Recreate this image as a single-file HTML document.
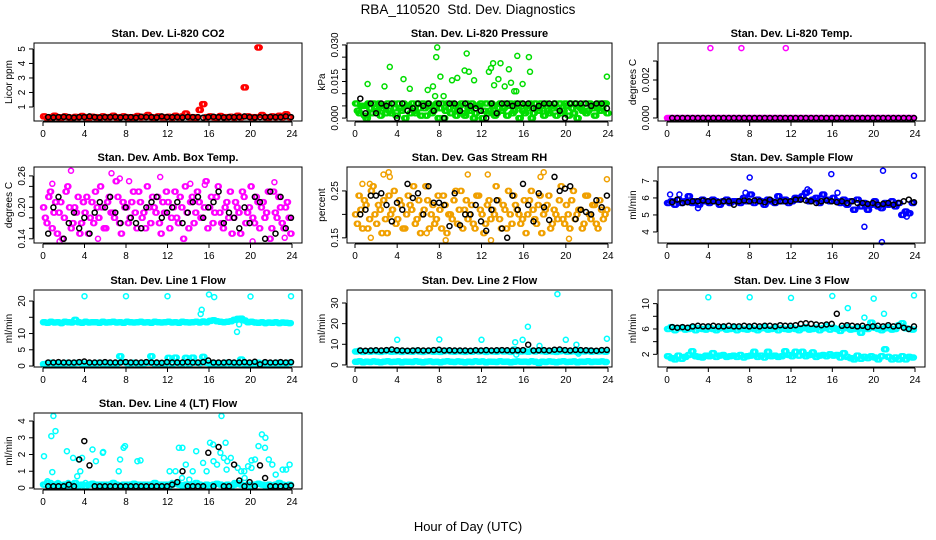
<!DOCTYPE html>
<html><head><meta charset="utf-8"><style>
body{margin:0;background:#fff;}
svg{display:block;font-family:"Liberation Sans",Arial,sans-serif;}
</style></head><body>
<svg id="chart" width="936" height="540" viewBox="0 0 936 540">
<text x="468" y="14" text-anchor="middle" font-size="13.5">RBA_110520&#160; Std. Dev. Diagnostics</text>
<text x="468" y="531" text-anchor="middle" font-size="13">Hour of Day (UTC)</text>
<g id="panels"></g>
</svg>
<script>
// ---- data ----
const co2Red=[0.35,0.25,0.3,0.4,0.3,0.28,0.35,0.3,0.25,0.32,0.3,0.38,0.3,0.27,0.33,0.3,0.25,0.35,0.3,0.3,0.4,0.28,0.3,0.35,0.3,0.25,0.3,0.38,0.3,0.32,0.45,0.3,0.28,0.35,0.3,0.3,0.33,0.27,0.4,0.3,0.35,0.55,0.3,0.3,0.28,0.8,1.2,0.3,0.35,0.3,0.27,0.38,0.3,0.3,0.33,0.28,0.4,0.3,2.35,0.35,0.3,0.3,5.1,0.45,0.3,0.28,0.35,0.3,0.4,0.3,0.5,0.3];
const co2Black=[0.3,0.28,0.3,0.32,0.3,0.27,0.3,0.3,0.35,0.3,0.28,0.3,0.3,0.32,0.28,0.3,0.3,0.27,0.33,0.3,0.3,0.28,0.35,0.3,0.3,0.3,0.28,0.32,0.3,0.3,0.27,0.3,0.33,0.3,0.28,0.3,0.3,0.3,0.35,0.3,0.28,0.3,0.3,0.32,0.3,0.3,0.35,0.3];
const presA=[0.006,0.002,0.005,0.000,0.004,0.006,0.003,0.001,0.005,0.006,0.002,0.004,0.006,0.003,0.000,0.005,0.006,0.002,0.004,0.006,0.001,0.005,0.003,0.006,0.004,0.000,0.006,0.002,0.005,0.003,0.006,0.001,0.004,0.006,0.002,0.005,0.000,0.006,0.003,0.005,0.002,0.006,0.004,0.001,0.006,0.003,0.005,0.006,0.002,0.004,0.000,0.006,0.003,0.005,0.006,0.002,0.004,0.001,0.006,0.003,0.005,0.006,0.002,0.000,0.004,0.006,0.003,0.005,0.001,0.006,0.004,0.006];
const presB=[0.003,0.005,0.001,0.006,0.002,0.004,0.006,0.004,0.002,0.003,0.006,0.001,0.004,0.006,0.005,0.002,0.003,0.006,0.001,0.004,0.006,0.002,0.005,0.000,0.006,0.003,0.004,0.006,0.001,0.005,0.002,0.006,0.003,0.000,0.005,0.006,0.003,0.002,0.006,0.001,0.004,0.003,0.006,0.005,0.002,0.006,0.000,0.003,0.005,0.006,0.002,0.004,0.006,0.001,0.003,0.005,0.006,0.004,0.002,0.006,0.001,0.004,0.006,0.005,0.003,0.002,0.006,0.004,0.005,0.003,0.006,0.002];
const presOutT=[1.2,2.8,3.3,4.6,5.2,6.9,7.4,7.6,7.7,7.8,8.1,8.4,9.2,9.7,10.4,10.6,10.8,11.3,12.7,12.9,13.1,13.2,13.6,13.8,14.2,14.6,14.8,15.1,15.3,15.4,15.9,16.5,16.6,23.9];
const presOutV=[0.014,0.013,0.021,0.016,0.012,0.0115,0.013,0.009,0.025,0.029,0.017,0.009,0.0155,0.0165,0.0195,0.0265,0.019,0.0155,0.019,0.0205,0.0225,0.0135,0.016,0.0225,0.013,0.020,0.0145,0.011,0.011,0.0255,0.014,0.025,0.019,0.017];
const presBlack=[0.008,0.002,0.006,0.002,0.006,0.005,0.006,0.000,0.006,0.003,0.004,0.006,0.005,0.006,0.003,0.006,0.000,0.006,0.006,0.003,0.006,0.005,0.004,0.003,0.000,0.006,0.002,0.006,0.006,0.005,0.006,0.006,0.006,0.004,0.005,0.006,0.006,0.006,0.003,0.000,0.006,0.006,0.006,0.006,0.005,0.006,0.006,0.004];
const tempMag=[0,0,0,0,0,0,0,0,0,0,0,0,0,0,0,0,0,0,0,0,0,0,0,0,0,0,0,0,0,0,0,0,0,0,0,0,0,0,0,0,0,0,0,0,0,0,0,0,0,0,0,0,0,0,0,0,0,0,0,0,0,0,0,0,0,0,0,0,0,0,0,0];
const tempOutT=[4.2,7.2,11.5];
const tempOutV=[0.00368,0.00368,0.00368];
const tempBlack=[0,0,0,0,0,0,0,0,0,0,0,0,0,0,0,0,0,0,0,0,0,0,0,0,0,0,0,0,0,0,0,0,0,0,0,0,0,0,0,0,0,0,0,0,0,0,0,0];
const ambA=[0.20,0.17,0.23,0.19,0.15,0.21,0.18,0.24,0.16,0.20,0.22,0.17,0.19,0.15,0.21,0.23,0.18,0.20,0.16,0.22,0.19,0.25,0.17,0.21,0.20,0.18,0.23,0.16,0.21,0.19,0.24,0.17,0.20,0.22,0.15,0.19,0.21,0.18,0.23,0.17,0.20,0.24,0.16,0.22,0.19,0.21,0.18,0.25,0.20,0.17,0.22,0.19,0.16,0.21,0.23,0.18,0.20,0.15,0.22,0.19,0.24,0.17,0.21,0.20,0.18,0.23,0.16,0.19,0.22,0.17,0.20,0.18];
const ambB=[0.18,0.22,0.16,0.21,0.19,0.14,0.23,0.20,0.17,0.19,0.15,0.21,0.22,0.18,0.17,0.20,0.24,0.16,0.21,0.19,0.18,0.22,0.15,0.20,0.17,0.21,0.19,0.23,0.18,0.16,0.20,0.22,0.19,0.17,0.21,0.23,0.16,0.20,0.18,0.22,0.14,0.19,0.21,0.17,0.23,0.18,0.20,0.16,0.22,0.19,0.24,0.17,0.20,0.18,0.15,0.21,0.19,0.23,0.17,0.20,0.18,0.22,0.16,0.21,0.19,0.14,0.23,0.18,0.20,0.16,0.21,0.15];
const ambOutT=[0.9,2.7,6.6,7.4,8.3,11.3,14.2,15.6,22.3,1.6,5.3,20.2,23.3];
const ambOutV=[0.245,0.27,0.265,0.255,0.25,0.258,0.245,0.243,0.248,0.135,0.14,0.135,0.142];
const ambBlack=[0.15,0.20,0.22,0.14,0.17,0.19,0.16,0.18,0.15,0.19,0.21,0.20,0.22,0.19,0.17,0.20,0.18,0.17,0.16,0.20,0.21,0.22,0.18,0.19,0.20,0.21,0.17,0.19,0.21,0.22,0.18,0.20,0.21,0.23,0.17,0.19,0.18,0.16,0.20,0.17,0.22,0.21,0.14,0.23,0.15,0.22,0.16,0.18];
const rhA=[0.20,0.24,0.17,0.22,0.19,0.26,0.18,0.21,0.23,0.16,0.20,0.25,0.19,0.22,0.17,0.24,0.21,0.18,0.23,0.20,0.26,0.17,0.22,0.19,0.21,0.24,0.16,0.20,0.23,0.18,0.25,0.21,0.19,0.22,0.17,0.24,0.20,0.18,0.23,0.21,0.26,0.19,0.22,0.17,0.20,0.24,0.21,0.18,0.23,0.20,0.25,0.19,0.22,0.16,0.21,0.24,0.18,0.20,0.23,0.19,0.22,0.17,0.25,0.20,0.21,0.18,0.24,0.19,0.22,0.17,0.21,0.20];
const rhB=[0.18,0.21,0.23,0.17,0.25,0.20,0.22,0.16,0.19,0.24,0.21,0.18,0.23,0.17,0.20,0.22,0.26,0.19,0.16,0.21,0.23,0.20,0.18,0.24,0.17,0.22,0.20,0.19,0.25,0.21,0.17,0.23,0.20,0.18,0.24,0.21,0.16,0.22,0.19,0.20,0.23,0.17,0.21,0.25,0.18,0.22,0.20,0.19,0.16,0.23,0.21,0.18,0.24,0.20,0.22,0.17,0.21,0.19,0.26,0.18,0.20,0.23,0.19,0.21,0.17,0.24,0.20,0.22,0.18,0.23,0.19,0.21];
const rhOutT=[0.7,1.4,2.7,3.2,6.8,8.6,10.7,12.6,12.9,17.9,20.3,23.9,3.3,17.6,1.5];
const rhOutV=[0.265,0.265,0.285,0.29,0.16,0.145,0.285,0.285,0.145,0.29,0.148,0.275,0.28,0.28,0.15];
const rhBlack=[0.20,0.21,0.24,0.24,0.245,0.22,0.185,0.225,0.21,0.265,0.235,0.245,0.20,0.26,0.225,0.225,0.22,0.175,0.245,0.177,0.20,0.20,0.22,0.185,0.165,0.21,0.23,0.17,0.15,0.24,0.21,0.265,0.22,0.185,0.245,0.215,0.188,0.28,0.25,0.255,0.26,0.19,0.21,0.205,0.20,0.23,0.215,0.24];
const sfBlue=[5.7,5.8,5.6,5.9,5.7,5.8,6.1,5.7,5.8,5.6,5.9,5.8,5.7,5.9,5.8,5.6,5.8,5.9,5.7,5.8,5.8,5.7,6.0,5.8,6.2,5.7,5.9,5.8,5.6,5.9,5.8,5.7,6.1,5.8,5.9,5.7,5.8,6.0,5.9,6.1,6.3,5.8,5.9,6.0,5.7,6.2,5.9,5.8,6.0,5.8,5.7,5.9,5.6,5.8,5.3,5.9,5.5,5.7,5.3,5.6,5.8,5.5,5.4,5.7,5.6,5.8,5.5,5.7,5.0,5.2,5.1,5.7];
const sfOutT=[0.3,1.2,3.0,7.6,8.0,13.6,13.8,15.9,16.5,19.1,20.8,20.9,23.9,23.2];
const sfOutV=[6.2,6.2,5.4,6.3,7.2,6.5,6.4,7.4,6.3,4.3,3.4,7.6,7.3,4.9];
const sfBlack=[5.75,5.9,5.7,5.75,5.8,5.8,5.85,5.8,5.8,5.75,5.8,5.8,5.6,5.8,5.85,5.8,5.85,5.8,5.75,5.9,5.75,5.8,5.8,5.8,5.9,5.9,5.85,5.8,5.7,5.8,5.85,5.8,5.75,5.8,5.7,5.8,5.7,5.7,5.65,5.7,5.6,5.65,5.7,5.6,5.7,5.8,5.9,5.75];
const l1Up=[13.5,13.3,13.6,13.4,13.5,13.2,13.6,13.5,13.4,14.2,13.5,13.3,13.6,13.4,13.5,13.5,13.3,13.6,13.4,13.5,13.6,13.4,13.5,13.3,13.6,13.5,13.4,13.5,13.6,13.4,13.5,13.3,13.6,13.5,13.4,13.5,13.6,13.4,13.5,13.3,13.6,13.5,13.4,13.5,13.6,13.4,13.7,13.5,13.9,14.1,13.8,13.6,13.5,13.6,13.8,14.2,14.5,14.6,14.0,13.5,13.6,13.4,13.3,13.5,13.2,13.4,13.3,13.5,13.2,13.4,13.3,13.2];
const l1Lo=[0.6,0.8,1.0,0.7,0.9,0.6,0.8,1.0,0.7,0.9,1.0,0.8,0.7,0.9,0.6,0.8,1.0,0.7,0.9,0.8,0.6,0.8,3.0,1.2,0.9,0.7,1.0,0.8,0.6,0.9,1.0,3.0,0.8,0.9,0.6,0.8,2.5,0.7,2.6,0.9,0.8,2.5,0.7,2.6,1.0,0.9,2.8,1.0,0.8,0.7,0.9,0.6,0.8,1.0,0.7,0.9,0.8,2.0,0.7,0.9,0.6,0.8,1.0,0.7,0.9,0.8,0.6,1.0,0.7,0.9,0.8,1.0];
const l1OutT=[4.0,8.0,12.0,15.2,15.3,16.0,16.5,18.7,18.9,20.0,23.9];
const l1OutV=[21.5,21.5,21.5,16.0,17.3,22.0,21.2,10.5,12.8,21.4,21.5];
const l1Black=[1.1,1.1,1.2,1.1,1.1,1.1,1.2,1.4,1.1,1.1,1.1,1.2,1.1,1.1,1.1,1.2,1.1,1.1,1.1,1.2,1.1,1.1,1.0,1.2,1.1,1.1,1.1,1.2,1.1,1.1,1.2,1.7,1.1,1.1,1.1,1.2,1.1,1.1,1.2,1.1,1.3,0.5,1.2,1.1,1.1,1.2,1.1,1.2];
const l2Up=[6.5,6.8,6.3,6.6,6.4,6.7,6.5,6.3,6.6,6.8,6.4,6.5,6.7,6.3,6.6,6.5,6.4,6.8,6.5,6.3,6.6,6.7,6.4,6.5,6.3,6.6,6.8,6.5,6.4,6.7,6.5,6.3,6.6,6.4,6.8,6.5,6.7,6.3,6.6,6.5,6.4,6.8,6.5,6.6,6.3,7.5,6.7,6.5,6.6,6.4,6.8,6.5,7.0,6.6,6.4,6.7,6.5,6.3,6.6,6.8,6.4,6.5,6.7,6.3,6.6,6.5,6.8,6.4,6.6,6.5,6.7,6.4];
const l2Lo=[1.5,1.8,1.3,1.6,1.4,1.7,1.5,1.3,1.6,1.8,1.4,1.5,1.7,1.3,1.6,1.5,1.4,1.8,1.5,1.3,1.6,1.7,1.4,1.5,1.3,1.6,1.8,1.5,1.4,1.7,1.5,1.3,1.6,1.4,1.8,1.5,1.7,1.3,1.6,1.5,1.4,1.8,1.5,1.6,1.3,1.5,1.7,1.5,1.6,1.4,1.8,1.5,1.0,1.6,1.4,1.7,1.5,1.3,1.6,1.8,1.4,1.5,1.7,1.3,1.6,1.5,1.8,1.4,1.6,1.5,1.7,1.4];
const l2OutT=[4.0,8.0,12.0,15.2,15.3,15.9,16.4,17.5,19.2,20.0,21.0,21.2,23.9];
const l2OutV=[12.2,12.3,12.2,11.0,5.0,12.2,18.5,9.2,34.3,12.2,9.8,5.5,12.7];
const l2Black=[7.0,6.9,7.0,7.1,7.0,7.2,7.5,7.1,7.0,6.9,7.0,7.1,7.0,7.0,7.2,7.4,7.0,7.1,7.0,7.0,7.0,6.9,7.1,7.0,7.2,7.0,7.1,7.2,7.1,7.0,7.1,7.2,9.8,7.0,7.1,7.2,7.0,7.4,7.5,7.2,7.0,7.3,7.2,7.1,7.0,6.9,7.2,7.3];
const l3Up=[6.0,6.3,5.8,6.1,6.2,5.9,6.0,6.3,5.8,6.1,6.0,5.9,6.2,6.0,5.8,6.1,6.3,5.9,6.0,6.2,5.8,6.1,6.0,5.9,6.2,6.0,5.8,6.1,6.3,5.9,6.0,6.2,5.8,6.1,6.0,5.9,6.2,6.0,5.8,6.1,6.3,5.9,6.0,6.2,5.8,6.1,6.4,5.9,6.2,6.0,5.7,6.1,6.3,5.9,6.0,6.2,5.4,6.1,6.0,7.0,6.2,6.0,5.8,6.1,6.3,5.9,6.0,6.6,6.9,6.1,6.0,5.9];
const l3Lo=[1.7,1.4,1.2,1.8,1.3,1.6,1.9,2.5,1.7,1.6,1.5,1.8,1.7,2.2,1.6,1.8,1.9,1.6,1.7,1.8,1.6,1.9,1.5,1.7,1.8,2.4,1.6,1.8,1.5,2.4,1.7,1.8,1.6,1.7,2.5,1.9,1.7,2.4,1.8,2.4,1.7,1.9,2.3,1.6,1.8,1.9,1.7,2.0,1.8,1.9,1.5,2.2,1.6,1.4,1.2,1.8,1.3,1.6,1.4,1.7,1.5,1.2,1.7,2.8,1.6,1.2,1.5,1.2,1.7,1.2,1.6,1.5];
const l3OutT=[4.0,8.0,12.0,16.0,17.5,19.1,20.0,21.0,23.9];
const l3OutV=[11.0,11.0,10.9,11.2,9.3,7.8,10.8,8.4,11.3];
const l3Black=[6.3,6.2,6.3,6.2,6.4,6.5,6.4,6.4,6.5,6.4,6.4,6.5,6.4,6.4,6.5,6.4,6.5,6.4,6.5,6.5,6.4,6.6,6.5,6.5,6.6,6.8,6.9,6.8,6.7,6.6,6.7,6.8,8.4,6.5,6.6,6.5,6.4,6.5,6.3,6.4,6.5,6.4,6.6,6.4,6.5,6.2,6.0,6.4];
const l4Cy=[0.2,0.4,0.3,0.2,0.3,0.1,0.2,0.3,0.2,0.1,1.7,1.8,0.3,0.2,2.3,1.6,0.2,2.1,0.2,0.1,0.3,0.2,1.7,2.4,0.2,0.1,0.2,1.6,0.2,0.1,0.2,0.2,0.1,0.2,0.2,0.1,0.2,0.3,1.0,2.4,2.4,1.4,0.5,1.0,2.2,0.2,1.5,1.0,2.7,1.6,1.4,2.1,1.8,1.6,1.8,0.3,1.2,1.0,0.6,1.3,1.2,1.7,2.5,3.2,3.0,1.7,1.4,0.8,0.3,1.1,1.1,1.4];
const l4Base=[0.2,0.3,0.1,0.2,0.25,0.15,0.2,0.1,0.2,0.3,0.15,0.2,0.1,0.2,0.25,0.2,0.15,0.2,0.1,0.2,0.3,0.2,0.15,0.2,0.1,0.2,0.25,0.2,0.15,0.2,0.1,0.2,0.3,0.2,0.15,0.2,0.1,0.2,0.25,0.2,0.15,0.2,0.1,0.2,0.3,0.2,0.15,0.2,0.1,0.2,0.25,0.2,0.15,0.2,0.1,0.2,0.3,0.2,0.15,0.2,0.1,0.2,0.25,0.2,0.15,0.2,0.1,0.2,0.3,0.2,0.15,0.2];
const l4OutT=[0.1,0.8,0.9,1.0,1.2,2.3,2.9,3.3,3.6,5.8,7.3,7.9,9.4,12.2,13.4,16.4,17.2,17.6,17.7,19.4,20.1,21.4];
const l4OutV=[1.9,3.1,0.95,4.3,3.4,2.2,1.8,0.7,1.0,2.15,1.0,2.5,1.65,1.0,0.6,2.6,4.3,2.7,1.1,1.0,1.65,2.4];
const l4Black=[0.1,0.1,0.1,0.1,0.2,0.1,1.7,2.8,1.35,0.1,0.1,0.1,0.1,0.1,0.1,0.1,0.1,0.1,0.1,0.1,0.1,0.1,0.1,0.1,0.2,0.35,1.0,0.1,0.1,0.1,0.1,2.1,0.1,2.45,0.1,0.1,1.4,0.45,0.1,0.35,0.1,1.35,0.6,0.1,0.1,0.1,0.1,0.15];

// ---- layout ----
const colL=[34,347,658], colR=[302,612,925], colX0=[43,355,667], colX24=[292,608,915];
const rowT=[43,167,290,413], rowB=[121,243,367,489];
const NS="http://www.w3.org/2000/svg";
const root=document.getElementById('panels');
function mk(tag,at,parent){const e=document.createElementNS(NS,tag);for(const k in at)e.setAttribute(k,at[k]);(parent||root).appendChild(e);return e;}
function seq(v,off){return v.map((_,i)=>i*24/v.length+off);}
function seqB(v){return v.map((_,i)=>0.5+i*23.4/(v.length-1));}

// series: [times, values, colour, repeat-count]
const panels=[
 {id:'co2',c:0,r:0,title:'Stan. Dev. Li-820 CO2',ylab:'Licor ppm',lo:0.034,hi:5.41,ticks:[1,2,3,4,5],labs:['1','2','3','4','5'],
  series:[[seq(co2Red,0),co2Red,'#ff0000',3],[seqB(co2Black),co2Black,'#000',1]]},
 {id:'pressure',c:1,r:0,title:'Stan. Dev. Li-820 Pressure',ylab:'kPa',lo:-0.0012,hi:0.0308,ticks:[0,0.005,0.01,0.015,0.02,0.025,0.03],labs:['0.000','','','0.015','','','0.030'],
  series:[[seq(presA,0),presA,'#00dd00',3],[seq(presB,0.17),presB,'#00dd00',3],[presOutT,presOutV,'#00dd00',1],[seqB(presBlack),presBlack,'#000',1]]},
 {id:'temp',c:2,r:0,title:'Stan. Dev. Li-820 Temp.',ylab:'degrees C',lo:-0.00016,hi:0.00395,ticks:[0,0.001,0.002,0.003],labs:['0.000','','0.002',''],
  series:[[seq(tempMag,0),tempMag,'#ff00ff',3],[tempOutT,tempOutV,'#ff00ff',1],[seqB(tempBlack),tempBlack,'#000',1]]},
 {id:'ambbox',c:0,r:1,title:'Stan. Dev. Amb. Box Temp.',ylab:'degrees C',lo:0.132,hi:0.277,ticks:[0.14,0.16,0.18,0.2,0.22,0.24,0.26],labs:['0.14','','','0.20','','','0.26'],
  series:[[seq(ambA,0),ambA,'#ff00ff',2],[seq(ambB,0.17),ambB,'#ff00ff',2],[ambOutT,ambOutV,'#ff00ff',1],[seqB(ambBlack),ambBlack,'#000',1]]},
 {id:'rh',c:1,r:1,title:'Stan. Dev. Gas Stream RH',ylab:'percent',lo:0.139,hi:0.301,ticks:[0.15,0.2,0.25],labs:['0.15','','0.25'],
  series:[[seq(rhA,0),rhA,'#f0a000',2],[seq(rhB,0.17),rhB,'#f0a000',2],[rhOutT,rhOutV,'#f0a000',1],[seqB(rhBlack),rhBlack,'#000',1]]},
 {id:'sampleflow',c:2,r:1,title:'Stan. Dev. Sample Flow',ylab:'ml/min',lo:3.35,hi:7.82,ticks:[4,5,6,7],labs:['4','5','6','7'],
  series:[[seq(sfBlue,0),sfBlue,'#0000ff',3],[sfOutT,sfOutV,'#0000ff',1],[seqB(sfBlack),sfBlack,'#000',1]]},
 {id:'line1',c:0,r:2,title:'Stan. Dev. Line 1 Flow',ylab:'ml/min',lo:-0.3,hi:23.4,ticks:[0,5,10,15,20],labs:['0','5','10','','20'],
  series:[[seq(l1Up,0),l1Up,'#00ffff',3],[seq(l1Lo,0),l1Lo,'#00ffff',3],[l1OutT,l1OutV,'#00ffff',1],[seqB(l1Black),l1Black,'#000',1]]},
 {id:'line2',c:1,r:2,title:'Stan. Dev. Line 2 Flow',ylab:'ml/min',lo:-1,hi:36.3,ticks:[0,10,20,30],labs:['0','10','20','30'],
  series:[[seq(l2Up,0),l2Up,'#00ffff',3],[seq(l2Lo,0),l2Lo,'#00ffff',3],[l2OutT,l2OutV,'#00ffff',1],[seqB(l2Black),l2Black,'#000',1]]},
 {id:'line3',c:2,r:2,title:'Stan. Dev. Line 3 Flow',ylab:'ml/min',lo:0,hi:12.15,ticks:[2,4,6,8,10],labs:['2','','6','','10'],
  series:[[seq(l3Up,0),l3Up,'#00ffff',3],[seq(l3Lo,0),l3Lo,'#00ffff',3],[l3OutT,l3OutV,'#00ffff',1],[seqB(l3Black),l3Black,'#000',1]]},
 {id:'line4',c:0,r:3,title:'Stan. Dev. Line 4 (LT) Flow',ylab:'ml/min',lo:-0.06,hi:4.48,ticks:[0,1,2,3,4],labs:['0','1','2','3','4'],
  series:[[seq(l4Base,0),l4Base,'#00ffff',3],[seq(l4Cy,0.1),l4Cy,'#00ffff',1],[l4OutT,l4OutV,'#00ffff',1],[seqB(l4Black),l4Black,'#000',1]]}
];
const xTicks=[0,4,8,12,16,20,24];

panels.forEach(p=>{
  const L=colL[p.c],R=colR[p.c],T=rowT[p.r],B=rowB[p.r];
  const x=t=>colX0[p.c]+t*(colX24[p.c]-colX0[p.c])/24;
  const y=v=>B-(v-p.lo)/(p.hi-p.lo)*(B-T);
  const g=mk('g',{});
  
  
  const tt=mk('text',{x:(L+R)/2,y:T-6,'text-anchor':'middle','font-size':'11','font-weight':'bold'},g);
  tt.textContent=p.title;
  
  
  const pts=mk('g',{fill:'none','stroke-width':'1.5'},g);
  
  
  p.series.forEach(s=>{
    const ts=s[0],vs=s[1],rep=s[3];
    vs.forEach((v,i)=>{
      for(let k=0;k<rep;k++){
        const c=mk('circle',{cx:x(ts[i]+k/9).toFixed(1),cy:y(v).toFixed(1),r:'2.5',stroke:s[2]},pts);
        
        
      }
    });
  });
  const box=mk('rect',{x:L,y:T,width:R-L,height:B-T,fill:'none',stroke:'#000','stroke-width':'1'},g);
  
  
  const xa=mk('g',{'font-size':'10'},g);
  
  
  mk('line',{x1:x(0),x2:x(24),y1:B+1,y2:B+1,stroke:'#000'},xa);
  xTicks.forEach(t=>{
    mk('line',{x1:x(t),x2:x(t),y1:B+1,y2:B+5,stroke:'#000'},xa);
    const tx=mk('text',{x:x(t),y:B+16,'text-anchor':'middle'},xa);tx.textContent=t;
  });
  const ya=mk('g',{'font-size':'10'},g);
  
  
  mk('line',{x1:L-1,x2:L-1,y1:y(p.ticks[0]),y2:y(p.ticks[p.ticks.length-1]),stroke:'#000'},ya);
  p.ticks.forEach((t,i)=>{
    const yy=y(t);
    mk('line',{x1:L-5,x2:L-1,y1:yy,y2:yy,stroke:'#000'},ya);
    if(p.labs[i]){const tx=mk('text',{x:L-9,y:yy,'text-anchor':'middle',transform:`rotate(-90 ${L-9} ${yy})`},ya);tx.textContent=p.labs[i];}
  });
  const yl=mk('text',{x:L-22,y:(T+B)/2,'text-anchor':'middle','font-size':'10',transform:`rotate(-90 ${L-22} ${(T+B)/2})`},g);
  yl.textContent=p.ylab;
  
  
});
</script>
</body></html>
